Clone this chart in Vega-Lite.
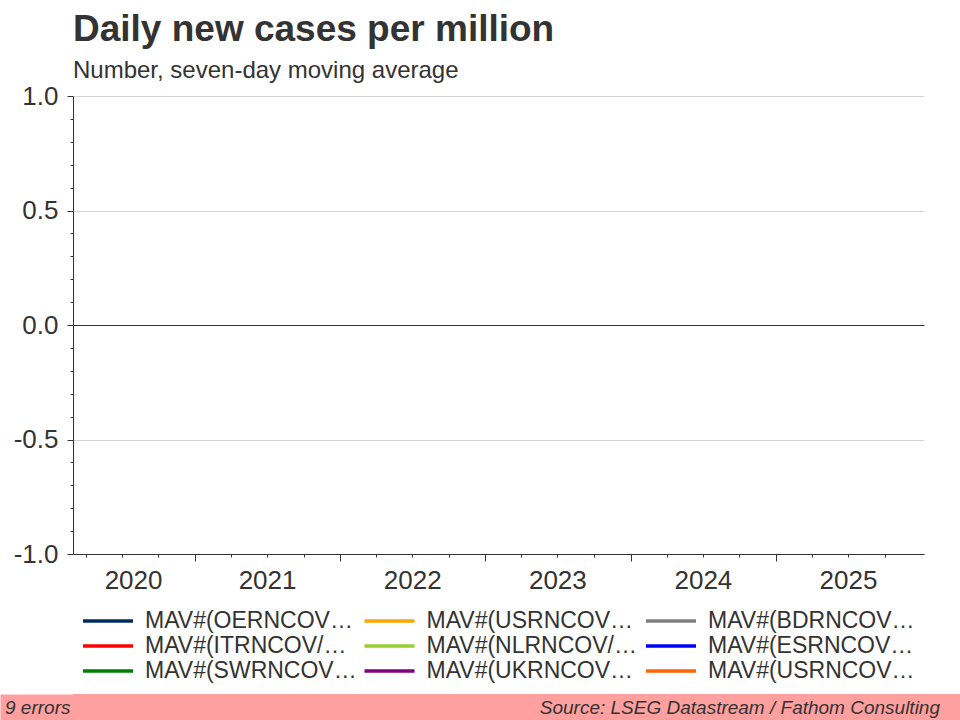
{
  "$schema": "https://vega.github.io/schema/vega-lite/v6.json",
  "background": "white",
  "padding": {"left": 0, "right": 0, "top": 11, "bottom": 0},
  "autosize": {"type": "pad"},
  "columns": 1,
  "align": "none",
  "spacing": 11,
  "resolve": {"scale": {"color": "independent"}, "legend": {"color": "independent"}},
  "config": {"font": "Liberation Sans", "view": {"stroke": null}},
  "concat": [
    {
      "width": 851,
      "height": 458,
      "title": {
        "text": "Daily new cases per million",
        "subtitle": "Number, seven-day moving average",
        "anchor": "start",
        "frame": "group",
        "font": "Liberation Sans",
        "fontSize": 37,
        "fontWeight": "bold",
        "color": "#333333",
        "subtitleFont": "Liberation Sans",
        "subtitleFontSize": 24,
        "subtitleColor": "#333333",
        "subtitlePadding": 10,
        "offset": -1
      },
      "data": {
        "values": [
          {"series": "OE", "date": null, "value": null},
          {"series": "US1", "date": null, "value": null},
          {"series": "BD", "date": null, "value": null},
          {"series": "IT", "date": null, "value": null},
          {"series": "NL", "date": null, "value": null},
          {"series": "ES", "date": null, "value": null},
          {"series": "SW", "date": null, "value": null},
          {"series": "UK", "date": null, "value": null},
          {"series": "US2", "date": null, "value": null}
        ]
      },
      "mark": {"type": "line", "strokeWidth": 2},
      "encoding": {
        "x": {
          "field": "date",
          "type": "temporal",
          "scale": {
            "domain": [
              {"year": 2020, "month": 2, "date": 29},
              {"year": 2026, "month": 1, "date": 8}
            ]
          },
          "axis": {
            "title": null,
            "grid": false,
            "values": [
              {"year": 2020, "month": 4, "date": 1},
              {"year": 2020, "month": 7, "date": 1},
              {"year": 2020, "month": 7, "date": 29},
              {"year": 2020, "month": 10, "date": 1},
              {"year": 2021, "month": 1, "date": 1},
              {"year": 2021, "month": 4, "date": 1},
              {"year": 2021, "month": 7, "date": 1},
              {"year": 2021, "month": 10, "date": 1},
              {"year": 2022, "month": 1, "date": 1},
              {"year": 2022, "month": 4, "date": 1},
              {"year": 2022, "month": 7, "date": 1},
              {"year": 2022, "month": 10, "date": 1},
              {"year": 2023, "month": 1, "date": 1},
              {"year": 2023, "month": 4, "date": 1},
              {"year": 2023, "month": 7, "date": 1},
              {"year": 2023, "month": 10, "date": 1},
              {"year": 2024, "month": 1, "date": 1},
              {"year": 2024, "month": 4, "date": 1},
              {"year": 2024, "month": 7, "date": 1},
              {"year": 2024, "month": 10, "date": 1},
              {"year": 2025, "month": 1, "date": 1},
              {"year": 2025, "month": 4, "date": 1},
              {"year": 2025, "month": 7, "date": 1},
              {"year": 2025, "month": 10, "date": 1}
            ],
            "labelExpr": "month(datum.value)==6 && (year(datum.value)>2020 || date(datum.value)==29) ? timeFormat(datum.value,'%Y') : ''",
            "tickSize": {"condition": {"test": "month(datum.value)==0", "value": 7}, "value": 3},
            "tickOpacity": {"condition": {"test": "date(datum.value)==29", "value": 0}, "value": 1},
            "tickColor": "#333333",
            "domainColor": "#333333",
            "labelColor": "#333333",
            "labelFont": "Liberation Sans",
            "labelFontSize": 26,
            "labelPadding": 10,
            "labelOverlap": false,
            "labelFlush": false,
            "labelBound": false
          }
        },
        "y": {
          "field": "value",
          "type": "quantitative",
          "scale": {"domain": [-1, 1], "nice": false, "zero": false},
          "axis": {
            "values": [-1, -0.9, -0.8, -0.7, -0.6, -0.5, -0.4, -0.3, -0.2, -0.1, 0, 0.1, 0.2, 0.3, 0.4, 0.5, 0.6, 0.7, 0.8, 0.9, 1],
            "title": "x",
            "titleOpacity": 0,
            "titleAngle": 0,
            "titleX": -73,
            "titleY": 200,
            "titleAlign": "left",
            "titleBaseline": "top",
            "titleFontSize": 10,
            "labelExpr": "abs(datum.value*2-round(datum.value*2))<0.01 ? replace(format(datum.value,'.1f'),'\u2212','-') : ''",
            "labelFont": "Liberation Sans",
            "labelFontSize": 26,
            "labelColor": "#333333",
            "labelPadding": 9,
            "labelOverlap": false,
            "labelFlush": false,
            "labelBound": false,
            "tickSize": {"condition": {"test": "abs(datum.value*2-round(datum.value*2))<0.01", "value": 6}, "value": 3},
            "tickColor": "#333333",
            "domainColor": "#333333",
            "grid": true,
            "gridColor": {"condition": {"test": "datum.value==0", "value": "#333333"}, "value": "#d4d4d4"},
            "gridOpacity": {"condition": {"test": "abs(datum.value*2-round(datum.value*2))<0.01", "value": 1}, "value": 0}
          }
        },
        "color": {
          "field": "series",
          "type": "nominal",
          "scale": {
            "domain": ["OE", "US1", "BD", "IT", "NL", "ES", "SW", "UK", "US2"],
            "range": ["#002b5c", "#ffa500", "#808080", "#ff0000", "#9acd32", "#0000ff", "#008000", "#800080", "#ff6600"]
          },
          "legend": {
            "title": null,
            "orient": "none",
            "legendX": 8,
            "legendY": 513,
            "direction": "horizontal",
            "columns": 3,
            "gridAlign": "all",
            "symbolType": "M-1,0H4",
            "symbolSize": 400,
            "symbolStrokeWidth": 3.5,
            "labelFont": "Liberation Sans",
            "labelFontSize": 23,
            "labelColor": "#333333",
            "labelLimit": 400,
            "labelOffset": 40,
            "columnPadding": 0.5,
            "rowPadding": 1,
            "labelExpr": "datum.label=='OE' ? 'MAV#(OERNCOV…' : datum.label=='US1' ? 'MAV#(USRNCOV…' : datum.label=='BD' ? 'MAV#(BDRNCOV…' : datum.label=='IT' ? 'MAV#(ITRNCOV/…' : datum.label=='NL' ? 'MAV#(NLRNCOV/…' : datum.label=='ES' ? 'MAV#(ESRNCOV…' : datum.label=='SW' ? 'MAV#(SWRNCOV…' : datum.label=='UK' ? 'MAV#(UKRNCOV…' : 'MAV#(USRNCOV…'"
          }
        }
      }
    },
    {
      "width": 887,
      "height": 28,
      "view": {"fill": "#ffa0a0", "stroke": null},
      "data": {
        "values": [
          {"pos": "left", "label": "9 errors"},
          {"pos": "right", "label": "Source: LSEG Datastream / Fathom Consulting"}
        ]
      },
      "encoding": {
        "x": {"field": "pos", "type": "nominal", "scale": {"type": "point", "domain": ["left", "right"], "padding": 0}, "axis": null},
        "y": {
          "datum": "footer",
          "type": "nominal",
          "scale": {"type": "point", "domain": ["footer"], "padding": 0.5},
          "axis": {"title": null, "labels": false, "ticks": false, "grid": false, "domain": true, "domainWidth": 146, "domainColor": "#ffa0a0", "domainCap": "butt"}
        },
        "text": {"field": "label"}
      },
      "layer": [
        {
          "transform": [{"filter": "datum.pos=='left'"}],
          "mark": {"type": "text", "align": "left", "dx": -68, "fontStyle": "italic", "fontSize": 19, "color": "#333333", "font": "Liberation Sans"}
        },
        {
          "transform": [{"filter": "datum.pos=='right'"}],
          "mark": {"type": "text", "align": "right", "dx": -20, "fontStyle": "italic", "fontSize": 19, "color": "#333333", "font": "Liberation Sans"}
        }
      ]
    }
  ]
}
